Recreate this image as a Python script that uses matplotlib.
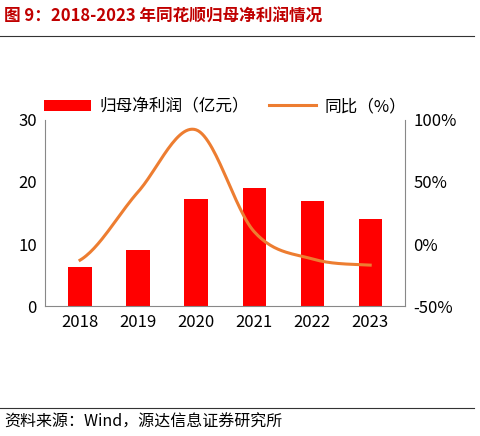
import matplotlib
matplotlib.use("Agg")
import matplotlib.pyplot as plt
import numpy as np

plt.rcParams['font.family'] = ['Noto Sans CJK SC', 'DejaVu Sans']

years = ['2018', '2019', '2020', '2021', '2022', '2023']
profit = [6.3, 9.0, 17.3, 19.1, 16.9, 14.0]
yoy = [-13, 42, 92, 10, -12, -17]

fig = plt.figure(figsize=(4.81, 4.36), dpi=100)
ax = fig.add_axes([0.094, 0.298, 0.748, 0.427])
x = np.arange(len(years))
ax.bar(x, profit, width=0.4, color='#FF0000', label='归母净利润（亿元）')
ax.set_ylim(0, 30)
ax.set_yticks([0, 10, 20, 30])
ax.set_xlim(-0.6, 5.6)
ax.set_xticks(x)
ax.set_xticklabels(years)
for s in ['top', 'right']:
    ax.spines[s].set_visible(False)
ax.spines['left'].set_color('#888888')
ax.spines['bottom'].set_color('#888888')
ax.tick_params(length=0, labelsize=12, pad=6)

ax2 = ax.twinx()
pts = np.array(yoy, dtype=float)
xs, ys = [], []
for i in range(len(pts) - 1):
    p0 = pts[max(i - 1, 0)]; p1 = pts[i]; p2 = pts[i + 1]; p3 = pts[min(i + 2, len(pts) - 1)]
    t = np.linspace(0, 1, 30)
    m1 = (p2 - p0) / 2; m2 = (p3 - p1) / 2
    h00 = 2*t**3 - 3*t**2 + 1; h10 = t**3 - 2*t**2 + t
    h01 = -2*t**3 + 3*t**2; h11 = t**3 - t**2
    xs.extend(i + t); ys.extend(h00*p1 + h10*m1 + h01*p2 + h11*m2)
ax2.plot(xs, ys, color='#ED7D31', lw=2.2, label='同比（%）')
ax2.set_ylim(-50, 100)
ax2.set_yticks([-50, 0, 50, 100])
ax2.set_yticklabels(['-50%', '0%', '50%', '100%'])
for s in ['top', 'left', 'bottom']:
    ax2.spines[s].set_visible(False)
ax2.spines['right'].set_color('#888888')
ax2.tick_params(length=0, labelsize=12, pad=6)

h1, l1 = ax.get_legend_handles_labels()
h2, l2 = ax2.get_legend_handles_labels()
fig.legend(h1 + h2, l1 + l2, loc='center', bbox_to_anchor=(0.468, 0.755), ncol=2,
           frameon=False, fontsize=12, handlelength=2.8, handletextpad=0.5,
           columnspacing=1.2)

fig.text(0.008, 0.962, '图 9：2018-2023 年同花顺归母净利润情况', color='#C00000',
         fontsize=12, fontweight='bold', va='center')
fig.add_artist(plt.Line2D([0.0, 0.985], [0.918, 0.918], color='#333333', lw=0.8))
fig.add_artist(plt.Line2D([0.0, 0.985], [0.064, 0.064], color='#333333', lw=0.8))
fig.text(0.008, 0.032, '资料来源：Wind，源达信息证券研究所', fontsize=11.5, va='center')

fig.savefig('out.png', dpi=100)
